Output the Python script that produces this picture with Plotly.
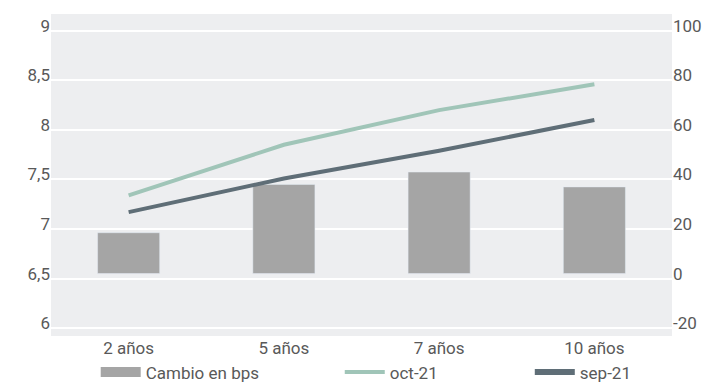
import plotly.graph_objects as go

categories = ["2 años", "5 años", "7 años", "10 años"]
cambio_bps = [16.5, 36.0, 41.0, 35.0]
oct_21 = [7.29, 7.80, 8.15, 8.41]
sep_21 = [7.12, 7.46, 7.74, 8.05]
left_ticks = [6, 6.5, 7, 7.5, 8, 8.5, 9]
right_ticks = [-20, 0, 20, 40, 60, 80, 100]
right_tick_labels = ["-20", "0", "20", "40", "60", "80", "100"]

FONT = "Roboto, sans-serif"
TXT = "#595959"
BAR = "#a5a5a5"
OCT = "#a0c5b8"
SEP = "#5f6e77"

fig = go.Figure()

# bars on right axis (main y)
fig.add_trace(go.Bar(x=categories, y=cambio_bps, yaxis="y", marker_color=BAR,
                     width=0.4, showlegend=False, name="Cambio en bps"))
# lines on left axis (y2)
fig.add_trace(go.Scatter(x=categories, y=oct_21, yaxis="y2", mode="lines",
                         line=dict(color=OCT, width=4), showlegend=False, name="oct-21"))
fig.add_trace(go.Scatter(x=categories, y=sep_21, yaxis="y2", mode="lines",
                         line=dict(color=SEP, width=4), showlegend=False, name="sep-21"))

# empty trace so the gridline axis (y3) is drawn
fig.add_trace(go.Scatter(x=[None], y=[None], yaxis="y3", mode="lines",
                         showlegend=False, hoverinfo="skip"))

# legend entries
fig.add_trace(go.Scatter(x=[None], y=[None], yaxis="y2", mode="lines", name="Cambio en bps",
                         line=dict(color=BAR, width=10), legend="legend"))
fig.add_trace(go.Scatter(x=[None], y=[None], yaxis="y2", mode="lines", name="oct-21",
                         line=dict(color=OCT, width=4), legend="legend2"))
fig.add_trace(go.Scatter(x=[None], y=[None], yaxis="y2", mode="lines", name="sep-21",
                         line=dict(color=SEP, width=6), legend="legend3"))

lo, hi = 5.87, 9.12
shift = 0.05

leg = dict(orientation="h", yanchor="middle", y=-0.113, xanchor="left",
           font=dict(family=FONT, size=17, color=TXT), bgcolor="rgba(0,0,0,0)",
           itemwidth=40)

fig.update_layout(
    width=720, height=382,
    margin=dict(l=51, r=48, t=14, b=46, autoexpand=False),
    paper_bgcolor="white",
    plot_bgcolor="#edeef0",
    separators=",.",
    font=dict(family=FONT, size=17, color=TXT),
    xaxis=dict(type="category", showgrid=False, zeroline=False, showline=False,
               ticks="", tickfont=dict(family=FONT, size=17, color=TXT)),
    yaxis=dict(side="right", range=[(lo - 6.5) * 40, (hi - 6.5) * 40],
               tickvals=right_ticks, ticktext=right_tick_labels,
               showgrid=False, zeroline=False, ticks="",
               tickfont=dict(family=FONT, size=17, color=TXT)),
    yaxis2=dict(overlaying="y", side="left", range=[lo, hi], tickvals=left_ticks,
                showgrid=False, zeroline=False, ticks="",
                tickfont=dict(family=FONT, size=17, color=TXT)),
    yaxis3=dict(overlaying="y", side="left", range=[lo + shift, hi + shift],
                tickvals=left_ticks, showticklabels=False, showgrid=True,
                gridcolor="white", gridwidth=2, zeroline=False, ticks=""),
    legend=dict(leg, x=0.072),
    legend2=dict(leg, x=0.465),
    legend3=dict(leg, x=0.771),
)

fig.write_html("out.html")
